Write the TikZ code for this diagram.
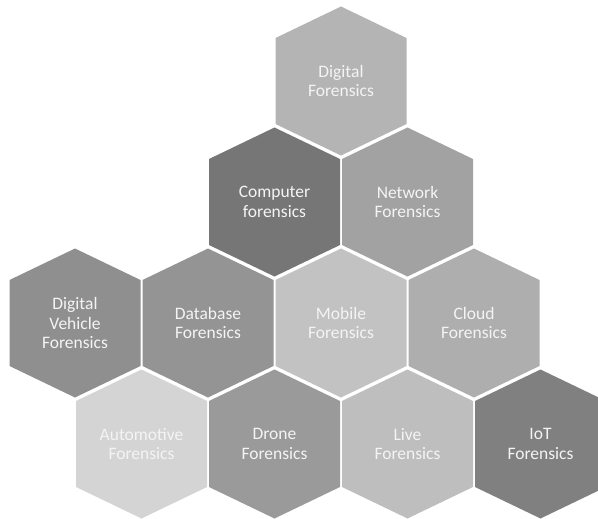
\documentclass[tikz,border=0pt]{standalone}
\usepackage{fontspec}
\setmainfont{Carlito}
\definecolor{cDigital}{RGB}{180,180,180}
\definecolor{cComputer}{RGB}{118,118,118}
\definecolor{cNetwork}{RGB}{162,162,162}
\definecolor{cVehicle}{RGB}{143,143,143}
\definecolor{cDatabase}{RGB}{148,148,148}
\definecolor{cMobile}{RGB}{194,194,194}
\definecolor{cCloud}{RGB}{174,174,174}
\definecolor{cAuto}{RGB}{212,212,212}
\definecolor{cDrone}{RGB}{154,154,154}
\definecolor{cLive}{RGB}{190,190,190}
\definecolor{cIoT}{RGB}{128,128,128}
\definecolor{labeltext}{RGB}{244,244,244}
\tikzset{
  hexlabel/.style={text=labeltext, align=center, inner sep=0pt,
    font=\fontsize{17.5pt}{19.5pt}\selectfont}
}
% one hexagonal cell: centre x, centre y, fill colour, node name, label
\newcommand{\hexcell}[5]{%
  \fill[#3] (#1,#2) ++(0,-74.5) -- ++(65.5,31.5) -- ++(0,86) -- ++(-65.5,31.5)
    -- ++(-65.5,-31.5) -- ++(0,-86) -- cycle;
  \node[hexlabel] (#4) at (#1,#2) {#5};
}
\begin{document}
\begin{tikzpicture}[x=1pt,y=-1pt]
\useasboundingbox (0,0) rectangle (598,519);
\clip (0,0) rectangle (598,519);
\hexcell{341}{81}{cDigital}{digital}{Digital\\Forensics}
\hexcell{274.5}{202}{cComputer}{computer}{Computer\\forensics}
\hexcell{407.5}{202}{cNetwork}{network}{Network\\Forensics}
\hexcell{75}{323}{cVehicle}{vehicle}{Digital\\Vehicle\\Forensics}
\hexcell{208}{323}{cDatabase}{database}{Database\\Forensics}
\hexcell{341}{323}{cMobile}{mobile}{Mobile\\Forensics}
\hexcell{474}{323}{cCloud}{cloud}{Cloud\\Forensics}
\hexcell{141.5}{444}{cAuto}{automotive}{Automotive\\Forensics}
\hexcell{274.5}{444}{cDrone}{drone}{Drone\\Forensics}
\hexcell{407.5}{444}{cLive}{live}{Live\\Forensics}
\hexcell{540.5}{444}{cIoT}{iot}{IoT\\Forensics}
\end{tikzpicture}
\end{document}
